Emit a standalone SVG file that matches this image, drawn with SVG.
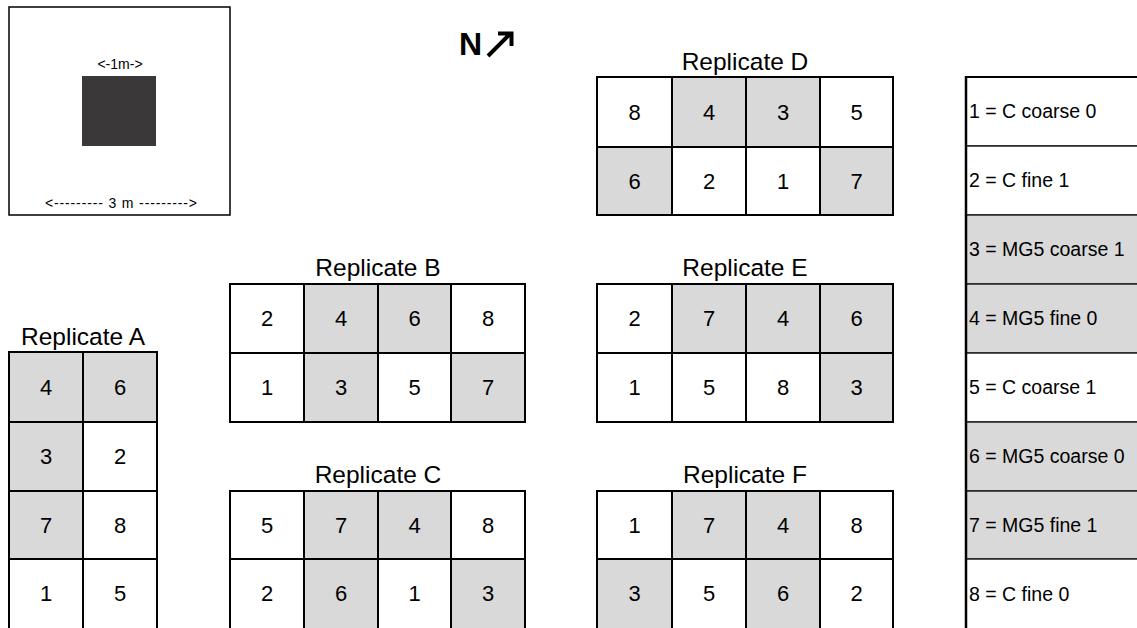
<svg xmlns="http://www.w3.org/2000/svg" width="1137" height="628" viewBox="0 0 1137 628">
<style>
  .w { fill: #ffffff; stroke: #000; stroke-width: 2; }
  .g { fill: #d9d9d9; stroke: #000; stroke-width: 2; }
  .num { font-family: "Liberation Sans", Arial, sans-serif; font-size: 22px; fill: #000; text-anchor: middle; }
  .title { font-family: "Liberation Sans", Arial, sans-serif; font-size: 24.5px; fill: #000; text-anchor: middle; }
  .leg { font-family: "Liberation Sans", Arial, sans-serif; font-size: 19.5px; fill: #000; }
  .lw { fill: #ffffff; stroke: #222; stroke-width: 1.5; }
  .lg { fill: #d9d9d9; stroke: #222; stroke-width: 1.5; }
  .small { font-family: "Liberation Sans", Arial, sans-serif; font-size: 14px; fill: #000; text-anchor: middle; }
</style>

<g id="scale-box">
  <rect x="9" y="7" width="221" height="208" fill="#fff" stroke="#000" stroke-width="1.5"/>
  <rect x="82" y="76" width="74" height="70" fill="#3a3839"/>
  <text class="small" x="120" y="69">&lt;-1m-&gt;</text>
  <text class="small" x="121" y="208" textLength="152" lengthAdjust="spacing">&lt;--------- 3 m ---------&gt;</text>
</g>

<g id="north">
  <text x="459" y="55" font-family="Liberation Sans, Arial, sans-serif" font-size="32" font-weight="bold" fill="#000">N</text>
  <path d="M488 56 L511 33 M498 33.5 L511.5 33.5 L511.5 46" fill="none" stroke="#000" stroke-width="4"/>
</g>

<g id="replicate-a">
  <text class="title" x="83" y="345">Replicate A</text>
  <rect class="g" x="9" y="352" width="74" height="70"/><text class="num" x="46" y="395">4</text>
  <rect class="g" x="83" y="352" width="74" height="70"/><text class="num" x="120" y="395">6</text>
  <rect class="g" x="9" y="422" width="74" height="69"/><text class="num" x="46" y="464">3</text>
  <rect class="w" x="83" y="422" width="74" height="69"/><text class="num" x="120" y="464">2</text>
  <rect class="g" x="9" y="491" width="74" height="68"/><text class="num" x="46" y="533">7</text>
  <rect class="w" x="83" y="491" width="74" height="68"/><text class="num" x="120" y="533">8</text>
  <rect class="w" x="9" y="559" width="74" height="80"/><text class="num" x="46" y="601">1</text>
  <rect class="w" x="83" y="559" width="74" height="80"/><text class="num" x="120" y="601">5</text>
</g>

<g id="replicate-b">
  <text class="title" x="378" y="276">Replicate B</text>
  <rect class="w" x="230" y="284" width="74" height="69"/><text class="num" x="267" y="326">2</text>
  <rect class="g" x="304" y="284" width="74" height="69"/><text class="num" x="341" y="326">4</text>
  <rect class="g" x="378" y="284" width="73" height="69"/><text class="num" x="414.5" y="326">6</text>
  <rect class="w" x="451" y="284" width="74" height="69"/><text class="num" x="488" y="326">8</text>
  <rect class="w" x="230" y="353" width="74" height="69"/><text class="num" x="267" y="395">1</text>
  <rect class="g" x="304" y="353" width="74" height="69"/><text class="num" x="341" y="395">3</text>
  <rect class="w" x="378" y="353" width="73" height="69"/><text class="num" x="414.5" y="395">5</text>
  <rect class="g" x="451" y="353" width="74" height="69"/><text class="num" x="488" y="395">7</text>
</g>

<g id="replicate-c">
  <text class="title" x="378" y="483">Replicate C</text>
  <rect class="w" x="230" y="491" width="74" height="68"/><text class="num" x="267" y="533">5</text>
  <rect class="g" x="304" y="491" width="74" height="68"/><text class="num" x="341" y="533">7</text>
  <rect class="g" x="378" y="491" width="73" height="68"/><text class="num" x="414.5" y="533">4</text>
  <rect class="w" x="451" y="491" width="74" height="68"/><text class="num" x="488" y="533">8</text>
  <rect class="w" x="230" y="559" width="74" height="80"/><text class="num" x="267" y="601">2</text>
  <rect class="g" x="304" y="559" width="74" height="80"/><text class="num" x="341" y="601">6</text>
  <rect class="w" x="378" y="559" width="73" height="80"/><text class="num" x="414.5" y="601">1</text>
  <rect class="g" x="451" y="559" width="74" height="80"/><text class="num" x="488" y="601">3</text>
</g>

<g id="replicate-d">
  <text class="title" x="745" y="70">Replicate D</text>
  <rect class="w" x="597" y="77" width="75" height="70"/><text class="num" x="634.5" y="120">8</text>
  <rect class="g" x="672" y="77" width="74" height="70"/><text class="num" x="709" y="120">4</text>
  <rect class="g" x="746" y="77" width="74" height="70"/><text class="num" x="783" y="120">3</text>
  <rect class="w" x="820" y="77" width="73" height="70"/><text class="num" x="856.5" y="120">5</text>
  <rect class="g" x="597" y="147" width="75" height="68"/><text class="num" x="634.5" y="189">6</text>
  <rect class="w" x="672" y="147" width="74" height="68"/><text class="num" x="709" y="189">2</text>
  <rect class="w" x="746" y="147" width="74" height="68"/><text class="num" x="783" y="189">1</text>
  <rect class="g" x="820" y="147" width="73" height="68"/><text class="num" x="856.5" y="189">7</text>
</g>

<g id="replicate-e">
  <text class="title" x="745" y="276">Replicate E</text>
  <rect class="w" x="597" y="284" width="75" height="69"/><text class="num" x="634.5" y="326">2</text>
  <rect class="g" x="672" y="284" width="74" height="69"/><text class="num" x="709" y="326">7</text>
  <rect class="g" x="746" y="284" width="74" height="69"/><text class="num" x="783" y="326">4</text>
  <rect class="g" x="820" y="284" width="73" height="69"/><text class="num" x="856.5" y="326">6</text>
  <rect class="w" x="597" y="353" width="75" height="69"/><text class="num" x="634.5" y="395">1</text>
  <rect class="w" x="672" y="353" width="74" height="69"/><text class="num" x="709" y="395">5</text>
  <rect class="w" x="746" y="353" width="74" height="69"/><text class="num" x="783" y="395">8</text>
  <rect class="g" x="820" y="353" width="73" height="69"/><text class="num" x="856.5" y="395">3</text>
</g>

<g id="replicate-f">
  <text class="title" x="745" y="483">Replicate F</text>
  <rect class="w" x="597" y="491" width="75" height="68"/><text class="num" x="634.5" y="533">1</text>
  <rect class="g" x="672" y="491" width="74" height="68"/><text class="num" x="709" y="533">7</text>
  <rect class="g" x="746" y="491" width="74" height="68"/><text class="num" x="783" y="533">4</text>
  <rect class="w" x="820" y="491" width="73" height="68"/><text class="num" x="856.5" y="533">8</text>
  <rect class="g" x="597" y="559" width="75" height="80"/><text class="num" x="634.5" y="601">3</text>
  <rect class="w" x="672" y="559" width="74" height="80"/><text class="num" x="709" y="601">5</text>
  <rect class="g" x="746" y="559" width="74" height="80"/><text class="num" x="783" y="601">6</text>
  <rect class="w" x="820" y="559" width="73" height="80"/><text class="num" x="856.5" y="601">2</text>
</g>

<g id="legend">
  <rect class="lw" x="966" y="77" width="200" height="69"/><text class="leg" x="969" y="118">1 = C coarse 0</text>
  <rect class="lw" x="966" y="146" width="200" height="69"/><text class="leg" x="969" y="187">2 = C fine 1</text>
  <rect class="lg" x="966" y="215" width="200" height="69"/><text class="leg" x="969" y="256">3 = MG5 coarse 1</text>
  <rect class="lg" x="966" y="284" width="200" height="69"/><text class="leg" x="969" y="325">4 = MG5 fine 0</text>
  <rect class="lw" x="966" y="353" width="200" height="69"/><text class="leg" x="969" y="394">5 = C coarse 1</text>
  <rect class="lg" x="966" y="422" width="200" height="69"/><text class="leg" x="969" y="463">6 = MG5 coarse 0</text>
  <rect class="lg" x="966" y="491" width="200" height="68"/><text class="leg" x="969" y="532">7 = MG5 fine 1</text>
  <rect class="lw" x="966" y="559" width="200" height="80"/><text class="leg" x="969" y="601">8 = C fine 0</text>
  <line x1="966" y1="76" x2="966" y2="640" stroke="#000" stroke-width="2.5"/>
  <line x1="966" y1="77" x2="1137" y2="77" stroke="#000" stroke-width="2"/>
</g>
</svg>
